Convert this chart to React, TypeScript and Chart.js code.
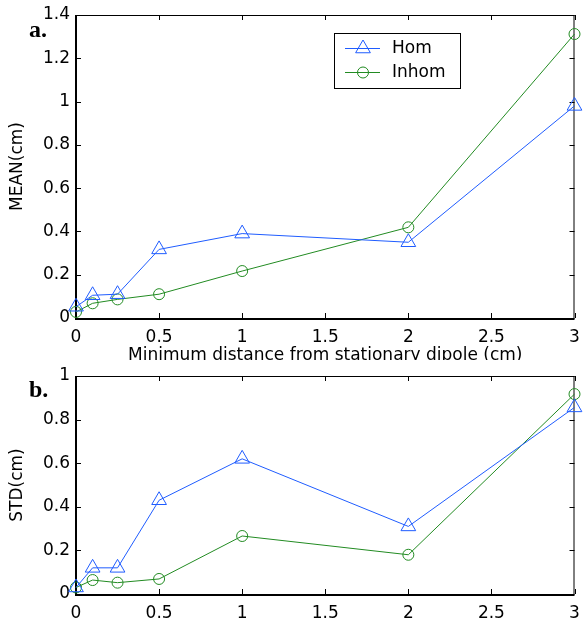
import React, { useEffect, useRef } from 'react';
import { Chart, registerables } from 'chart.js';

Chart.register(...registerables);

// ---- data ----
const distances = [0, 0.1, 0.25, 0.5, 1, 2, 3];
const meanHom = [0.052, 0.105, 0.11, 0.317, 0.39, 0.35, 0.98];
const meanInhom = [0.028, 0.068, 0.086, 0.11, 0.217, 0.419, 1.312];
const stdHom = [0.03, 0.12, 0.12, 0.43, 0.62, 0.31, 0.856];
const stdInhom = [0.03, 0.064, 0.052, 0.069, 0.266, 0.18, 0.917];
const seriesLabels = ['Hom', 'Inhom'];
const xTickValues = [0, 0.5, 1, 1.5, 2, 2.5, 3];
const xTickLabels = ['0', '0.5', '1', '1.5', '2', '2.5', '3'];
const meanTickValues = [0, 0.2, 0.4, 0.6, 0.8, 1, 1.2, 1.4];
const meanTickLabels = ['0', '0.2', '0.4', '0.6', '0.8', '1', '1.2', '1.4'];
const stdTickValues = [0, 0.2, 0.4, 0.6, 0.8, 1];
const stdTickLabels = ['0', '0.2', '0.4', '0.6', '0.8', '1'];
const xTitle = 'Minimum distance from stationary dipole (cm)';

const BLUE = '#1f5cff';
const GREEN = '#228b22';
const FONT = 'DejaVu Sans';

const framePlugin = {
  id: 'matlabFrame',
  beforeDatasetsDraw(chart: any) {
    const { ctx, chartArea: a, scales } = chart;
    const x = scales.x;
    const y = scales.y;
    ctx.save();
    ctx.strokeStyle = '#000';
    ctx.lineWidth = 1;
    ctx.beginPath();
    ctx.moveTo(a.left, a.top + 0.5);
    ctx.lineTo(a.right, a.top + 0.5);
    ctx.moveTo(a.right - 0.5, a.top);
    ctx.lineTo(a.right - 0.5, a.bottom);
    ctx.stroke();
    ctx.lineWidth = 2;
    ctx.beginPath();
    ctx.moveTo(a.left, a.top);
    ctx.lineTo(a.left, a.bottom + 1);
    ctx.lineTo(a.right, a.bottom + 1);
    ctx.stroke();
    ctx.lineWidth = 1;
    ctx.beginPath();
    const tl = 5;
    x.ticks.forEach((t: any) => {
      const px = Math.round(x.getPixelForValue(t.value)) + 0.5;
      ctx.moveTo(px, a.bottom);
      ctx.lineTo(px, a.bottom - tl);
      ctx.moveTo(px, a.top);
      ctx.lineTo(px, a.top + tl);
    });
    y.ticks.forEach((t: any) => {
      const py = Math.round(y.getPixelForValue(t.value)) + 0.5;
      ctx.moveTo(a.left, py);
      ctx.lineTo(a.left + tl, py);
      ctx.moveTo(a.right, py);
      ctx.lineTo(a.right - tl, py);
    });
    ctx.stroke();
    ctx.restore();
  },
  afterDraw(chart: any) {
    const opts = chart.options.plugins.matlabFrame || {};
    const { ctx, chartArea: a } = chart;
    ctx.save();
    if (opts.panel) {
      ctx.fillStyle = '#000';
      ctx.font = 'bold 24px "Liberation Serif"';
      ctx.textBaseline = 'alphabetic';
      ctx.textAlign = 'left';
      ctx.fillText(opts.panel, 29, 37);
    }
    if (opts.legend) {
      const lx = a.left + 258;
      const ly = a.top + 18;
      const w = 126;
      const h = 55;
      ctx.fillStyle = '#fff';
      ctx.fillRect(lx, ly, w, h);
      ctx.strokeStyle = '#000';
      ctx.lineWidth = 1;
      ctx.strokeRect(lx + 0.5, ly + 0.5, w, h);
      chart.data.datasets.forEach((ds: any, i: number) => {
        const yy = ly + 15.5 + i * 24;
        ctx.strokeStyle = ds.borderColor;
        ctx.lineWidth = 1;
        ctx.beginPath();
        ctx.moveTo(lx + 11, yy);
        ctx.lineTo(lx + 46, yy);
        ctx.stroke();
        const cx = lx + 29;
        ctx.beginPath();
        if (ds.pointStyle === 'triangle') {
          const r = ds.pointRadius;
          ctx.moveTo(cx, yy - r);
          ctx.lineTo(cx + r * Math.sqrt(3) / 2, yy + r / 2);
          ctx.lineTo(cx - r * Math.sqrt(3) / 2, yy + r / 2);
          ctx.closePath();
        } else {
          ctx.arc(cx, yy, ds.pointRadius, 0, Math.PI * 2);
        }
        ctx.stroke();
        ctx.fillStyle = '#000';
        ctx.font = `17px "${FONT}"`;
        ctx.textBaseline = 'middle';
        ctx.textAlign = 'left';
        ctx.fillText(ds.label, lx + 58, yy);
      });
    }
    ctx.restore();
  },
};

function makeConfig(
  hom: number[],
  inhom: number[],
  yTickValues: number[],
  yTickLabels: string[],
  yMax: number,
  yTitle: string,
  panel: string,
  showXTitle: boolean,
  showLegend: boolean,
  xAxisHeight: number,
  topPad: number
): any {
  return {
    type: 'line',
    data: {
      datasets: [
        {
          label: seriesLabels[0],
          data: distances.map((d, i) => ({ x: d, y: hom[i] })),
          borderColor: BLUE,
          backgroundColor: 'rgba(0,0,0,0)',
          borderWidth: 1,
          pointStyle: 'triangle',
          pointRadius: 8.5,
          pointBorderWidth: 1,
          pointBorderColor: BLUE,
          pointBackgroundColor: 'rgba(0,0,0,0)',
          clip: false,
          tension: 0,
        },
        {
          label: seriesLabels[1],
          data: distances.map((d, i) => ({ x: d, y: inhom[i] })),
          borderColor: GREEN,
          backgroundColor: 'rgba(0,0,0,0)',
          borderWidth: 1,
          pointStyle: 'circle',
          pointRadius: 5.5,
          pointBorderWidth: 1,
          pointBorderColor: GREEN,
          pointBackgroundColor: 'rgba(0,0,0,0)',
          clip: false,
          tension: 0,
        },
      ],
    },
    options: {
      animation: false,
      responsive: false,
      devicePixelRatio: 1,
      layout: { padding: { left: 0, right: 6, top: topPad, bottom: 0 } },
      plugins: {
        legend: { display: false },
        tooltip: { enabled: false },
        matlabFrame: { panel, legend: showLegend },
      },
      scales: {
        x: {
          type: 'linear',
          min: 0,
          max: 3,
          afterBuildTicks: (s: any) => {
            s.ticks = xTickValues.map((v) => ({ value: v }));
          },
          afterFit: (s: any) => {
            s.height = xAxisHeight;
            s.paddingLeft = 0;
            s.paddingRight = 0;
          },
          grid: { display: false, drawTicks: false },
          border: { display: false },
          ticks: {
            padding: 9,
            color: '#000',
            font: { family: FONT, size: 17 },
            maxRotation: 0,
            autoSkip: false,
            callback: (_v: any, i: number) => xTickLabels[i],
          },
          title: {
            display: showXTitle,
            text: xTitle,
            color: '#000',
            font: { family: FONT, size: 17 },
            padding: { top: 0, bottom: -6 },
          },
        },
        y: {
          type: 'linear',
          min: 0,
          max: yMax,
          afterBuildTicks: (s: any) => {
            s.ticks = yTickValues.map((v) => ({ value: v }));
          },
          afterFit: (s: any) => {
            s.width = 76;
            s.paddingTop = 0;
            s.paddingBottom = 0;
          },
          grid: { display: false, drawTicks: false },
          border: { display: false },
          ticks: {
            padding: 6,
            color: '#000',
            font: { family: FONT, size: 17 },
            autoSkip: false,
            callback: (_v: any, i: number) => yTickLabels[i],
          },
          title: {
            display: true,
            text: yTitle,
            color: '#000',
            font: { family: FONT, size: 17 },
            padding: { top: 7, bottom: 0 },
          },
        },
      },
    },
    plugins: [framePlugin],
  };
}

function ChartCanvas({ config, width, height, top }: any) {
  const ref = useRef<HTMLCanvasElement | null>(null);
  useEffect(() => {
    if (!ref.current) return;
    const chart = new Chart(ref.current, config);
    return () => chart.destroy();
  }, []);
  return (
    <canvas
      ref={ref}
      width={width}
      height={height}
      style={{ position: 'absolute', left: 0, top, width, height, display: 'block' }}
    />
  );
}

export default function App() {
  const topConfig = makeConfig(meanHom, meanInhom, meanTickValues, meanTickLabels, 1.4, 'MEAN(cm)', 'a.', true, true, 42, 15);
  const bottomConfig = makeConfig(stdHom, stdInhom, stdTickValues, stdTickLabels, 1, 'STD(cm)', 'b.', false, false, 25, 16);
  return (
    <div style={{ position: 'absolute', left: 0, top: 0, width: 584, height: 619, background: '#fff' }}>
      <ChartCanvas config={topConfig} width={584} height={360} top={0} />
      <ChartCanvas config={bottomConfig} width={584} height={259} top={360} />
    </div>
  );
}
